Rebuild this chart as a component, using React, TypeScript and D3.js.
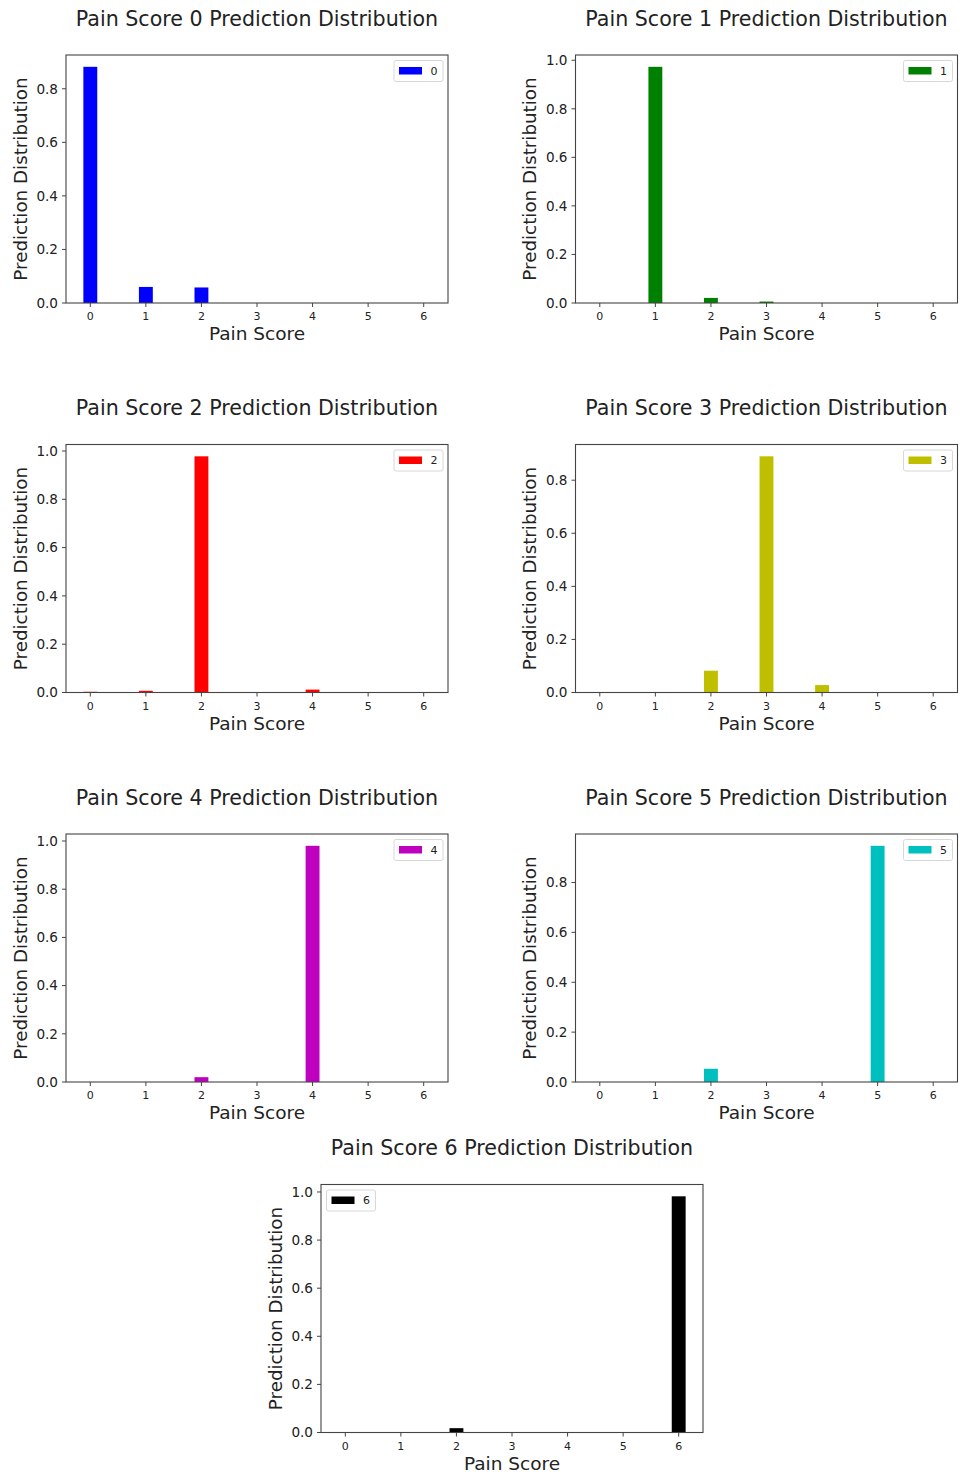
import React from "react";
import * as d3 from "d3";

const painScores = [0, 1, 2, 3, 4, 5, 6];
const tickLabels = ["0", "1", "2", "3", "4", "5", "6"];

const dist0 = [0.882, 0.06, 0.058, 0, 0, 0, 0];
const dist1 = [0, 0.973, 0.021, 0.006, 0, 0, 0];
const dist2 = [0.003, 0.007, 0.978, 0, 0.012, 0, 0];
const dist3 = [0, 0, 0.082, 0.89, 0.028, 0, 0];
const dist4 = [0, 0, 0.02, 0, 0.98, 0, 0];
const dist5 = [0, 0, 0.053, 0, 0, 0.947, 0];
const dist6 = [0, 0, 0.018, 0, 0, 0, 0.982];

const seriesValues = [dist0, dist1, dist2, dist3, dist4, dist5, dist6];
const seriesColors = ["#0000ff", "#008000", "#ff0000", "#bfbf00", "#bf00bf", "#00bfbf", "#000000"];
const seriesTitles = painScores.map((s) => `Pain Score ${s} Prediction Distribution`);

const W = 964;
const H = 1477;
const PW = 382;
const PH = 248;
const layout = [
  { left: 66, top: 55, legend: "right" },
  { left: 575.5, top: 55, legend: "right" },
  { left: 66, top: 444.5, legend: "right" },
  { left: 575.5, top: 444.5, legend: "right" },
  { left: 66, top: 834, legend: "right" },
  { left: 575.5, top: 834, legend: "right" },
  { left: 321, top: 1184.5, legend: "left" },
];

const FONT = "DejaVu Sans, sans-serif";
const TEXT = "#222";

function Panel({ idx }: { idx: number }) {
  const { left, top, legend } = layout[idx];
  const values = seriesValues[idx];
  const color = seriesColors[idx];
  const x = d3.scaleLinear().domain([-0.4375, 6.4375]).range([left, left + PW]);
  const ymax = (d3.max(values) as number) * 1.05;
  const y = d3.scaleLinear().domain([0, ymax]).range([top + PH, top]);
  const yTicks = y.ticks(5);
  const fmt = d3.format(".1f");
  const bw = 0.25;
  const bottom = top + PH;
  const legW = 49;
  const legH = 21;
  const legX = legend === "right" ? left + PW - 5 - legW : left + 5.5;
  const legY = top + 5.5;
  return (
    <g>
      <text x={left + PW / 2} y={top - 29.5} textAnchor="middle" fontFamily={FONT} fontSize={20.6} fill={TEXT}>
        {seriesTitles[idx]}
      </text>
      {values.map((v, i) => (
        <rect
          key={i}
          x={x(painScores[i] - bw / 2)}
          y={y(v)}
          width={x(bw) - x(0)}
          height={Math.max(0, bottom - y(v))}
          fill={color}
        />
      ))}
      <rect x={left} y={top} width={PW} height={PH} fill="none" stroke="#444" strokeWidth={1.1} />
      {yTicks.map((t) => (
        <g key={t}>
          <line x1={left - 4} x2={left} y1={y(t)} y2={y(t)} stroke="#444" strokeWidth={1} />
          <text x={left - 8} y={y(t)} dy="0.36em" textAnchor="end" fontFamily={FONT} fontSize={13.6} fill={TEXT}>
            {fmt(t)}
          </text>
        </g>
      ))}
      {painScores.map((s, i) => (
        <g key={s}>
          <line x1={x(s)} x2={x(s)} y1={bottom} y2={bottom + 4} stroke="#444" strokeWidth={1} />
          <text x={x(s)} y={bottom + 17} textAnchor="middle" fontFamily={FONT} fontSize={11} fill={TEXT}>
            {tickLabels[i]}
          </text>
        </g>
      ))}
      <text x={left + PW / 2} y={bottom + 37} textAnchor="middle" fontFamily={FONT} fontSize={18.5} fill={TEXT}>
        Pain Score
      </text>
      <text
        transform={`translate(${left - 39.5},${top + PH / 2}) rotate(-90)`}
        textAnchor="middle"
        fontFamily={FONT}
        fontSize={18.3}
        fill={TEXT}
      >
        Prediction Distribution
      </text>
      <rect x={legX} y={legY} width={legW} height={legH} rx={2} fill="#fff" stroke="#d8d8d8" strokeWidth={1} />
      <rect x={legX + 5} y={legY + 6.5} width={23} height={7.5} fill={color} />
      <text x={legX + 40} y={legY + 10.5} dy="0.36em" textAnchor="middle" fontFamily={FONT} fontSize={11} fill={TEXT}>
        {String(painScores[idx])}
      </text>
    </g>
  );
}

export default function App() {
  return (
    <svg
      width={W}
      height={H}
      viewBox={`0 0 ${W} ${H}`}
      style={{ position: "absolute", left: 0, top: 0, background: "#fff" }}
    >
      <rect x={0} y={0} width={W} height={H} fill="#fff" />
      {seriesValues.map((_, i) => (
        <Panel key={i} idx={i} />
      ))}
    </svg>
  );
}
